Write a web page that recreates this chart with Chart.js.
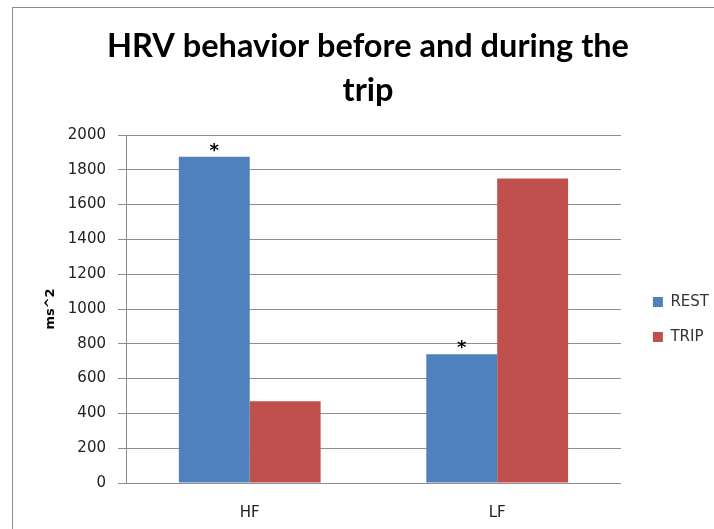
<!DOCTYPE html>
<html>
<head>
<meta charset="utf-8">
<title>HRV behavior before and during the trip</title>
<script src="https://cdn.jsdelivr.net/npm/chart.js@4.4.1/dist/chart.umd.min.js"></script>
<style>
  html, body { margin: 0; padding: 0; background: #fff; overflow: hidden; }
  #wrap { position: relative; width: 714px; height: 529px; overflow: hidden; }
  #hrvChart { position: absolute; left: 0; top: 0; }
  #frame { position: absolute; left: 12px; top: 7px; width: 760px; height: 600px;
           border-left: 1px solid #8c8c8c; border-top: 1px solid #8c8c8c; pointer-events: none; }
</style>
</head>
<body>
<div id="wrap">
  <canvas id="hrvChart" width="741" height="529"></canvas>
  <div id="frame"></div>
</div>
<script>
// data
const CATEGORIES = ['HF', 'LF'];
const REST = [1875, 740];
const TRIP = [470, 1750];
const REST_MARKS = ['*', '*'];   // significance stars over the REST bars
const Y_MIN = 0, Y_MAX = 2000, Y_STEP = 200;

const BLUE = '#4f81bd';
const RED  = '#c0504d';
const GRID = '#8e8e8e';
const TXT_FONT = "'DejaVu Sans', sans-serif";

// draws the "*" above each REST bar
const starPlugin = {
    id: 'stars',
    afterDatasetsDraw(chart) {
        var meta = chart.getDatasetMeta(0);
        var ctx = chart.ctx;
        ctx.save();
        ctx.font = "bold 18px 'DejaVu Sans', sans-serif";
        ctx.fillStyle = '#000';
        ctx.textAlign = 'center';
        ctx.textBaseline = 'alphabetic';
        meta.data.forEach(function(bar, i) {
            if (REST_MARKS[i]) ctx.fillText(REST_MARKS[i], bar.x, bar.y - 1);
        });
        ctx.restore();
    }
};

new Chart(document.getElementById('hrvChart').getContext('2d'), {
    type: 'bar',
    data: {
        labels: CATEGORIES,
        datasets: [
            { label: 'REST', data: REST, backgroundColor: BLUE, yAxisID: 'y' },
            { label: 'TRIP', data: TRIP, backgroundColor: RED,  yAxisID: 'y' }
        ]
    },
    options: {
        responsive: false,
        animation: false,
        devicePixelRatio: 1,
        categoryPercentage: 0.573,
        barPercentage: 1,
        layout: { padding: { left: 17, right: 22, top: 0, bottom: 0 } },
        plugins: {
            title: {
                display: true,
                text: ['HRV behavior before and during the', 'trip'],
                color: '#000',
                font: { family: 'Lato, sans-serif', size: 32.5, weight: 'bold', lineHeight: 1.354 },
                padding: { top: 24.75, bottom: 22.25 }
            },
            legend: {
                position: 'right',
                fullSize: false,
                title: { display: true, text: '', font: { size: 1, lineHeight: 1 }, padding: { top: 10, bottom: 10 } },
                labels: { boxWidth: 10, boxHeight: 10, padding: 20, color: '#333', font: { family: TXT_FONT, size: 15 } }
            },
            tooltip: { enabled: false }
        },
        scales: {
            x: {
                grid: { display: false, drawTicks: false },
                border: { color: GRID },
                ticks: { color: '#222', padding: 21, font: { family: TXT_FONT, size: 15 } },
                afterFit: function(s) { s.height = 46; }
            },
            y: {
                min: Y_MIN, max: Y_MAX,
                grid: { color: GRID, tickLength: 8 },
                border: { color: GRID },
                ticks: { stepSize: Y_STEP, color: '#222', padding: 12, font: { family: TXT_FONT, size: 15 },
                         callback: function(v) { return String(v); } },
                title: { display: true, text: 'ms^2', color: '#000',
                         font: { family: TXT_FONT, size: 13, weight: 'bold' }, padding: { top: 26.2, bottom: 4 } },
                afterFit: function(s) { s.width = 109; }
            },
            // empty spacer between the plot and the legend
            gap: {
                type: 'linear', position: 'right', display: true,
                grid: { display: false, drawTicks: false },
                border: { display: false },
                ticks: { display: false },
                afterFit: function(s) { s.width = 12; }
            }
        }
    },
    plugins: [starPlugin]
});
</script>
</body>
</html>
